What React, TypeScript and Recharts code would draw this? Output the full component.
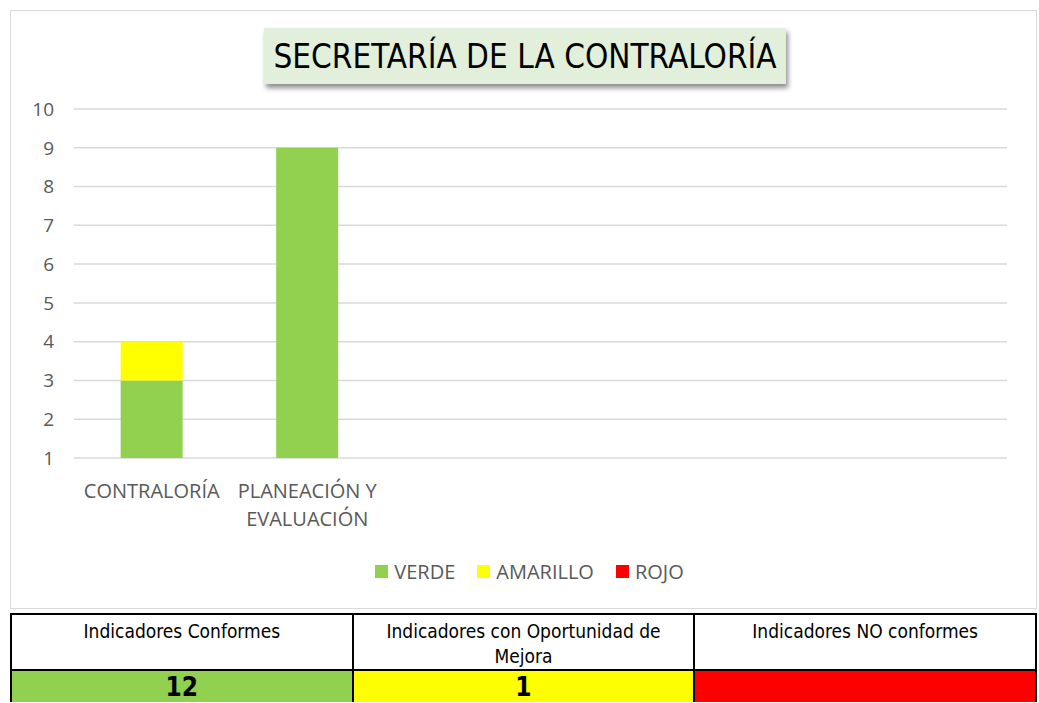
import React from 'react';
import { BarChart, Bar, XAxis, YAxis, CartesianGrid } from 'recharts';

const categories = ['CONTRALORÍA', 'PLANEACIÓN Y EVALUACIÓN', '', '', '', ''];
const verde = [3, 9, 0, 0, 0, 0];
const amarillo = [1, 0, 0, 0, 0, 0];
const rojo = [0, 0, 0, 0, 0, 0];
const yTicks = [1, 2, 3, 4, 5, 6, 7, 8, 9, 10];

const seriesNames = ['VERDE', 'AMARILLO', 'ROJO'];
const seriesColors = ['#92d050', '#ffff00', '#ff0000'];

const tableHeaders = ['Indicadores Conformes', 'Indicadores con Oportunidad de Mejora', 'Indicadores NO conformes'];
const tableValues = ['12', '1', ''];

const data = categories.map((name, i) => ({
    name,
    VERDE: verde[i],
    AMARILLO: amarillo[i],
    ROJO: rojo[i],
}));

const FONT = '"Open Sans", "Noto Sans", sans-serif';
const NARROW = '"Liberation Sans Narrow", "DejaVu Sans Condensed", sans-serif';

function wrapWords(text: string, maxChars: number) {
    const lines: string[] = [];
    let cur = '';
    text.split(' ').forEach((w) => {
        const next = cur ? cur + ' ' + w : w;
        if (next.length > maxChars && cur) {
            lines.push(cur);
            cur = w;
        } else {
            cur = next;
        }
    });
    if (cur) lines.push(cur);
    return lines;
}

function CategoryTick(props: any) {
    const { x, y, payload } = props;
    const lines = wrapWords(String(payload.value || ''), 13);
    return (
        <g transform={`translate(${x},${y})`}>
            {lines.map((l, i) => (
                <text key={i} x={0} y={26 + i * 28} textAnchor="middle" fill="#595959" fontSize={20} fontFamily={FONT}>
                    {l}
                </text>
            ))}
        </g>
    );
}

function LegendRow() {
    return (
        <div
            style={{
                position: 'absolute',
                top: 547,
                left: 0,
                width: 1027,
                display: 'flex',
                justifyContent: 'center',
                paddingLeft: 10,
                boxSizing: 'border-box',
                fontFamily: FONT,
                fontSize: 20,
                color: '#595959',
            }}
        >
            {seriesNames.map((n, i) => (
                <div key={n} style={{ display: 'flex', alignItems: 'center', marginRight: i < 2 ? 22 : 0 }}>
                    <span style={{ width: 13, height: 13, background: seriesColors[i], display: 'inline-block', marginRight: 6 }} />
                    <span>{n}</span>
                </div>
            ))}
        </div>
    );
}

export default function App() {
    return (
        <div style={{ position: 'absolute', left: 0, top: 0, width: 1039, height: 703, background: '#fff', overflow: 'hidden' }}>
            <div
                style={{
                    position: 'absolute',
                    left: 10,
                    top: 10,
                    width: 1027,
                    height: 599,
                    border: '1px solid #d9d9d9',
                    boxSizing: 'border-box',
                }}
            >
                <div
                    style={{
                        position: 'absolute',
                        left: 253,
                        top: 17,
                        width: 522,
                        height: 56,
                        background: '#e2efda',
                        boxShadow: '2px 4px 5px rgba(0,0,0,0.45)',
                        display: 'flex',
                        alignItems: 'center',
                        justifyContent: 'center',
                        fontFamily: NARROW,
                        fontSize: 33,
                        color: '#000',
                    }}
                >
                    SECRETARÍA DE LA CONTRALORÍA
                </div>
                <BarChart
                    width={1025}
                    height={597}
                    data={data}
                    margin={{ top: 98, right: 29, left: 0, bottom: 120 }}
                    barCategoryGap="30%"
                >
                    <CartesianGrid vertical={false} stroke="#d9d9d9" strokeWidth={1.5} />
                    <XAxis
                        dataKey="name"
                        axisLine={false}
                        tickLine={false}
                        interval={0}
                        tick={<CategoryTick />}
                        tickMargin={8}
                    />
                    <YAxis
                        width={63}
                        domain={[1, 10]}
                        ticks={yTicks}
                        allowDataOverflow
                        axisLine={false}
                        tickLine={false}
                        tickMargin={14}
                        tick={{ fill: '#595959', fontSize: 19, fontFamily: FONT }}
                    />
                    {seriesNames.map((n, i) => (
                        <Bar key={n} dataKey={n} stackId="a" fill={seriesColors[i]} isAnimationActive={false} />
                    ))}
                </BarChart>
                <LegendRow />
            </div>
            <table
                style={{
                    position: 'absolute',
                    left: 10,
                    top: 613,
                    width: 1027,
                    borderCollapse: 'collapse',
                    tableLayout: 'fixed',
                    fontFamily: NARROW,
                }}
            >
                <tbody>
                    <tr style={{ height: 55 }}>
                        {tableHeaders.map((h) => (
                            <td
                                key={h}
                                style={{
                                    border: '2px solid #000',
                                    verticalAlign: 'top',
                                    textAlign: 'center',
                                    fontSize: 19,
                                    lineHeight: '25px',
                                    padding: '4px 30px 0',
                                }}
                            >
                                {h}
                            </td>
                        ))}
                    </tr>
                    <tr style={{ height: 32 }}>
                        {tableValues.map((v, i) => (
                            <td
                                key={i}
                                style={{
                                    border: '2px solid #000',
                                    borderBottom: 'none',
                                    background: seriesColors[i],
                                    textAlign: 'center',
                                    verticalAlign: 'middle',
                                    fontSize: 26,
                                    fontWeight: 'bold',
                                    lineHeight: '30px',
                                    padding: 0,
                                }}
                            >
                                {v}
                            </td>
                        ))}
                    </tr>
                </tbody>
            </table>
        </div>
    );
}
